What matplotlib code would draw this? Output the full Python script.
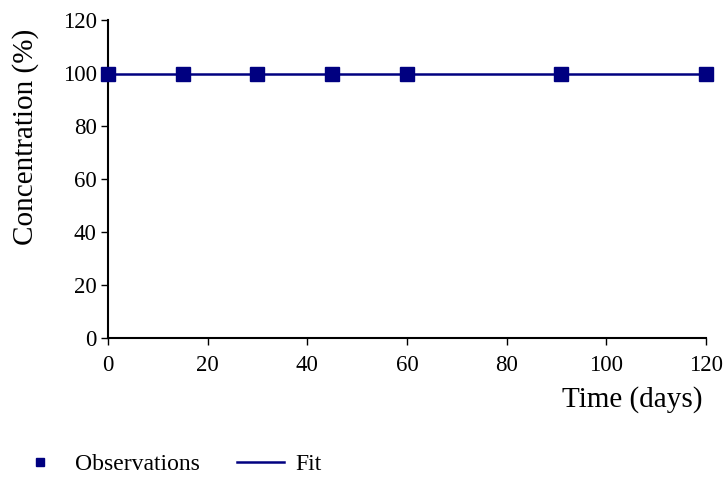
import numpy as np
import matplotlib.pyplot as plt

plt.rcParams['font.family'] = ['Liberation Serif', 'DejaVu Serif']

# observed data
obs_days = [0, 15, 30, 45, 60, 91, 120]
obs_conc = [99.8, 99.8, 99.8, 99.8, 99.8, 99.8, 99.8]

# fitted line
fit_days = [0, 120]
fit_conc = [99.8, 99.8]

navy = '#000080'

fig = plt.figure(figsize=(7.24, 4.78), dpi=100)
ax = fig.add_axes([0.149, 0.293, 0.826, 0.665])

ax.plot(fit_days, fit_conc, '-', color=navy, lw=1.8, label='Fit', zorder=2)
ax.plot(obs_days, obs_conc, 's', color=navy, ms=10, label='Observations',
        clip_on=False, zorder=3)

ax.set_xlim(0, 120)
ax.set_ylim(0, 120)
ax.set_xticks(range(0, 121, 20))
ax.set_yticks(range(0, 121, 20))
ax.spines['top'].set_visible(False)
ax.spines['right'].set_visible(False)
ax.spines['left'].set_linewidth(1.5)
ax.spines['bottom'].set_linewidth(1.5)
ax.tick_params(direction='out', length=5, width=1, labelsize=16.5, pad=3)
ax.tick_params(axis='x', pad=7)

ax.set_ylabel('Concentration (%)', fontsize=21)
ax.yaxis.set_label_coords(-0.115, 0.632)
ax.set_xlabel('Time (days)', fontsize=21, loc='right')
ax.xaxis.set_label_coords(0.995, -0.151)

h, l = ax.get_legend_handles_labels()
fig.legend([h[1], h[0]], [l[1], l[0]], loc='center left',
           bbox_to_anchor=(-0.007, 0.029), ncol=2, frameon=False,
           fontsize=17, markerscale=0.58, handlelength=2.0,
           handletextpad=0.49, columnspacing=1.57)

fig.savefig('out.png', dpi=100)
